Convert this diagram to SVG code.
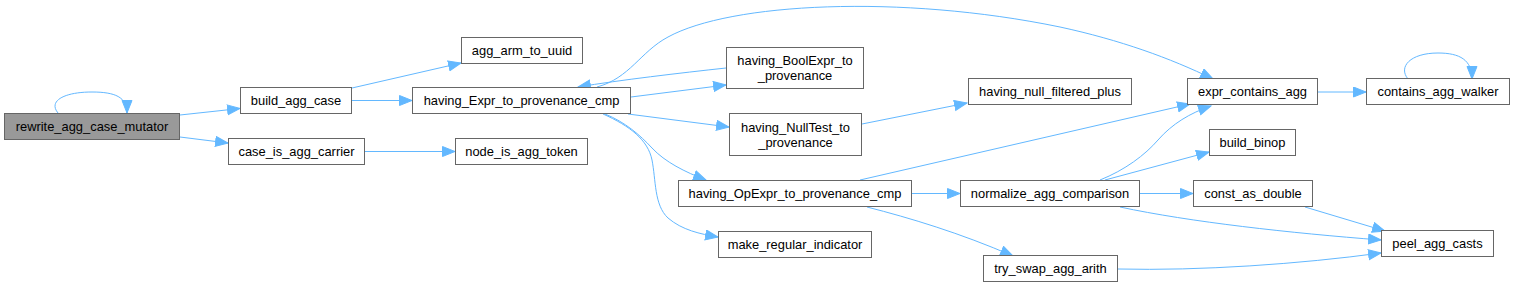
<svg xmlns="http://www.w3.org/2000/svg" width="1515" height="288" viewBox="0 0 1515 288">
<defs>
<style>
.n rect{fill:#ffffff;stroke:#666666;stroke-width:1}
.n.root rect{fill:#999999}
.n text{font-family:"Liberation Sans",Arial,Helvetica,sans-serif;font-size:12.9px;fill:#000000;text-anchor:middle}
.e path{fill:none;stroke:#63b8ff;stroke-width:1;marker-end:url(#ah)}
</style>
<marker id="ah" markerUnits="userSpaceOnUse" markerWidth="16" markerHeight="12" refX="13" refY="5.5" orient="auto">
<path d="M0.5,0.5 L13,5.5 L0.5,10.5 z" fill="#63b8ff" stroke="#63b8ff" stroke-width="1"/>
</marker>
</defs>
<rect width="1515" height="288" fill="#ffffff"/>
<g id="edges" class="e">
<path d="M58,113 C48,101 64,92 92,92 C115,92 127,97 127,113"/>
<path d="M180,115 L240,108.5"/>
<path d="M180,137 L228,143"/>
<path d="M352,88 L461,63"/>
<path d="M352,100.5 L412,100.5"/>
<path d="M365,151.5 L455,151.5"/>
<path d="M631,97 L726,85"/>
<path d="M726,68 C680,73 620,80 578,87"/>
<path d="M597,87 C630,78 640,52 668,37 C730,3 900,-6 1060,27 C1120,40 1170,58 1213,79"/>
<path d="M628,114 L729,127"/>
<path d="M605,114 C625,122 640,135 652,148 C665,162 685,172 706,180"/>
<path d="M603,114 C630,126 648,140 652,160 C656,180 654,205 668,218 C682,230 700,234 718,237"/>
<path d="M862,124 L967,103"/>
<path d="M860,180 L1190,104"/>
<path d="M1100,180 C1125,170 1145,155 1158,140 C1172,124 1190,113 1211,106"/>
<path d="M1105,180 L1209,152"/>
<path d="M1140,193.5 L1193,193.5"/>
<path d="M1120,207 C1190,222 1290,233 1381,240"/>
<path d="M1305,207 L1385,231"/>
<path d="M912,193.5 L960,193.5"/>
<path d="M867,207 C910,218 960,233 1013,256"/>
<path d="M1118,269 C1200,271 1300,264 1381,253"/>
<path d="M1318,92 L1366,92"/>
<path d="M1408,79 C1398,67 1410,53 1438,53 C1460,53 1472,60 1472,79"/>
</g>
<g id="rewrite_agg_case_mutator" class="n root"><rect x="4.5" y="113.5" width="175" height="26"/><text x="92" y="131">rewrite_agg_case_mutator</text></g>
<g id="build_agg_case" class="n"><rect x="240.5" y="87.5" width="111" height="26"/><text x="296" y="105">build_agg_case</text></g>
<g id="case_is_agg_carrier" class="n"><rect x="228.5" y="138.5" width="136" height="26"/><text x="296.5" y="156">case_is_agg_carrier</text></g>
<g id="agg_arm_to_uuid" class="n"><rect x="461.5" y="37.5" width="121" height="26"/><text x="522" y="55">agg_arm_to_uuid</text></g>
<g id="having_Expr_to_provenance_cmp" class="n"><rect x="412.5" y="87.5" width="218" height="26"/><text x="521.5" y="105">having_Expr_to_provenance_cmp</text></g>
<g id="node_is_agg_token" class="n"><rect x="455.5" y="138.5" width="132" height="26"/><text x="521.5" y="156">node_is_agg_token</text></g>
<g id="having_BoolExpr_to_provenance" class="n"><rect x="726.5" y="47.5" width="137" height="41"/><text x="795" y="65">having_BoolExpr_to</text><text x="795" y="80">_provenance</text></g>
<g id="having_NullTest_to_provenance" class="n"><rect x="729.5" y="113.5" width="132" height="42"/><text x="795.5" y="131.5">having_NullTest_to</text><text x="795.5" y="146.5">_provenance</text></g>
<g id="having_OpExpr_to_provenance_cmp" class="n"><rect x="678.5" y="180.5" width="233" height="26"/><text x="795" y="198">having_OpExpr_to_provenance_cmp</text></g>
<g id="make_regular_indicator" class="n"><rect x="718.5" y="231.5" width="153" height="26"/><text x="795" y="249">make_regular_indicator</text></g>
<g id="having_null_filtered_plus" class="n"><rect x="968.5" y="78.5" width="163" height="26"/><text x="1050" y="96">having_null_filtered_plus</text></g>
<g id="normalize_agg_comparison" class="n"><rect x="960.5" y="180.5" width="179" height="26"/><text x="1050" y="198">normalize_agg_comparison</text></g>
<g id="try_swap_agg_arith" class="n"><rect x="983.5" y="255.5" width="134" height="26"/><text x="1050.5" y="273">try_swap_agg_arith</text></g>
<g id="expr_contains_agg" class="n"><rect x="1187.5" y="78.5" width="130" height="26"/><text x="1252.5" y="96">expr_contains_agg</text></g>
<g id="build_binop" class="n"><rect x="1209.5" y="129.5" width="86" height="26"/><text x="1252.5" y="147">build_binop</text></g>
<g id="const_as_double" class="n"><rect x="1193.5" y="180.5" width="119" height="26"/><text x="1253" y="198">const_as_double</text></g>
<g id="contains_agg_walker" class="n"><rect x="1366.5" y="78.5" width="143" height="26"/><text x="1438" y="96">contains_agg_walker</text></g>
<g id="peel_agg_casts" class="n"><rect x="1381.5" y="230.5" width="112" height="26"/><text x="1437.5" y="248">peel_agg_casts</text></g>
</svg>
